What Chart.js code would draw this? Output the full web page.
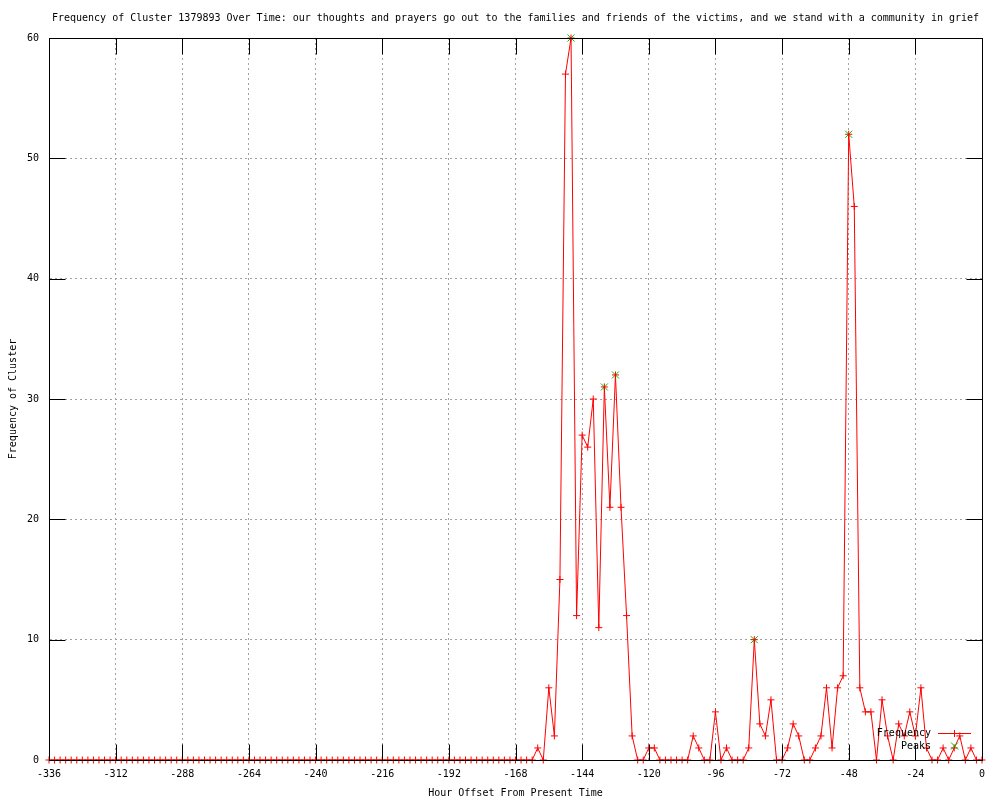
<!DOCTYPE html>
<html>
<head>
<meta charset="utf-8">
<script src="https://cdn.jsdelivr.net/npm/chart.js@4"></script>
<style>
    body { margin: 0; background: #fff; }
    #wrap { width: 1000px; height: 800px; }
</style>
</head>
<body>
<div id="wrap"><canvas id="chart" width="1000" height="800"></canvas></div>
<script>
const titleText = "Frequency of Cluster 1379893 Over Time: our thoughts and prayers go out to the families and friends of the victims, and we stand with a community in grief";

// hour offsets, one sample every 2 hours
const hours = [
    -336, -334, -332, -330, -328, -326, -324, -322, -320, -318, -316, -314,
    -312, -310, -308, -306, -304, -302, -300, -298, -296, -294, -292, -290,
    -288, -286, -284, -282, -280, -278, -276, -274, -272, -270, -268, -266,
    -264, -262, -260, -258, -256, -254, -252, -250, -248, -246, -244, -242,
    -240, -238, -236, -234, -232, -230, -228, -226, -224, -222, -220, -218,
    -216, -214, -212, -210, -208, -206, -204, -202, -200, -198, -196, -194,
    -192, -190, -188, -186, -184, -182, -180, -178, -176, -174, -172, -170,
    -168, -166, -164, -162, -160, -158, -156, -154, -152, -150, -148, -146,
    -144, -142, -140, -138, -136, -134, -132, -130, -128, -126, -124, -122,
    -120, -118, -116, -114, -112, -110, -108, -106, -104, -102, -100, -98,
    -96, -94, -92, -90, -88, -86, -84, -82, -80, -78, -76, -74,
    -72, -70, -68, -66, -64, -62, -60, -58, -56, -54, -52, -50,
    -48, -46, -44, -42, -40, -38, -36, -34, -32, -30, -28, -26,
    -24, -22, -20, -18, -16, -14, -12, -10, -8, -6, -4, -2,
    0
];

const frequency = [
    0, 0, 0, 0, 0, 0, 0, 0, 0, 0, 0, 0,
    0, 0, 0, 0, 0, 0, 0, 0, 0, 0, 0, 0,
    0, 0, 0, 0, 0, 0, 0, 0, 0, 0, 0, 0,
    0, 0, 0, 0, 0, 0, 0, 0, 0, 0, 0, 0,
    0, 0, 0, 0, 0, 0, 0, 0, 0, 0, 0, 0,
    0, 0, 0, 0, 0, 0, 0, 0, 0, 0, 0, 0,
    0, 0, 0, 0, 0, 0, 0, 0, 0, 0, 0, 0,
    0, 0, 0, 0, 1, 0, 6, 2, 15, 57, 60, 12,
    27, 26, 30, 11, 31, 21, 32, 21, 12, 2, 0, 0,
    1, 1, 0, 0, 0, 0, 0, 0, 2, 1, 0, 0,
    4, 0, 1, 0, 0, 0, 1, 10, 3, 2, 5, 0,
    0, 1, 3, 2, 0, 0, 1, 2, 6, 1, 6, 7,
    52, 46, 6, 4, 4, 0, 5, 2, 0, 3, 2, 4,
    2, 6, 1, 0, 0, 1, 0, 1, 2, 0, 1, 0,
    0
];

const peakHours = [-148, -136, -132, -82, -48];
const peakValues = [60, 31, 32, 10, 52];

const xTicks = [-336, -312, -288, -264, -240, -216, -192, -168, -144, -120, -96, -72, -48, -24, 0];
const yTicks = [0, 10, 20, 30, 40, 50, 60];

const FONT = "'DejaVu Sans Mono', 'Liberation Mono', monospace";
const RED = "#ff0000";
const GREEN = "#00c000";
const TIC = 16;

Chart.defaults.font.family = FONT;
Chart.defaults.font.size = 10;
Chart.defaults.color = "#000";

// gnuplot style border box with inward ticks on all four sides
const borderPlugin = {
    id: "gnuBorder",
    afterDatasetsDraw: function (chart) {
        var ctx = chart.ctx;
        var a = chart.chartArea;
        var xs = chart.scales.x;
        var ys = chart.scales.y;
        var L = Math.round(a.left) + 0.5, R = Math.round(a.right) + 0.5;
        var T = Math.round(a.top) + 0.5, B = Math.round(a.bottom) + 0.5;
        ctx.save();
        ctx.strokeStyle = "#000";
        ctx.lineWidth = 1;
        ctx.setLineDash([]);
        ctx.beginPath();
        xTicks.forEach(function (v) {
            var px = Math.round(xs.getPixelForValue(v)) + 0.5;
            ctx.moveTo(px, B); ctx.lineTo(px, B - TIC);
            ctx.moveTo(px, T); ctx.lineTo(px, T + TIC);
        });
        yTicks.forEach(function (v) {
            var py = Math.round(ys.getPixelForValue(v)) + 0.5;
            ctx.moveTo(L, py); ctx.lineTo(L + TIC, py);
            ctx.moveTo(R, py); ctx.lineTo(R - TIC, py);
        });
        ctx.stroke();
        ctx.strokeRect(L, T, R - L, B - T);
        ctx.restore();
    },
    afterDraw: function (chart) {
        // key in the lower right corner of the plot
        var ctx = chart.ctx;
        var a = chart.chartArea;
        var ds = chart.data.datasets;
        var textX = a.right - 51;
        var lineX0 = a.right - 44, lineX1 = a.right - 11;
        var midX = (lineX0 + lineX1) / 2;
        var y1 = a.bottom - 27, y2 = a.bottom - 14;
        ctx.save();
        ctx.font = "10px " + FONT;
        ctx.fillStyle = "#000";
        ctx.textAlign = "right";
        ctx.textBaseline = "middle";
        ctx.fillText(ds[0].label, textX, y1);
        ctx.fillText(ds[1].label, textX, y2);
        ctx.lineWidth = 1;
        ctx.strokeStyle = RED;
        ctx.beginPath();
        ctx.moveTo(lineX0, y1 + 0.5); ctx.lineTo(lineX1, y1 + 0.5);
        ctx.moveTo(midX - 3.5, y1 + 0.5); ctx.lineTo(midX + 3.5, y1 + 0.5);
        ctx.moveTo(midX, y1 - 3); ctx.lineTo(midX, y1 + 4);
        ctx.stroke();
        ctx.strokeStyle = GREEN;
        ctx.beginPath();
        ctx.moveTo(midX - 3.5, y2 - 3.5); ctx.lineTo(midX + 3.5, y2 + 3.5);
        ctx.moveTo(midX - 3.5, y2 + 3.5); ctx.lineTo(midX + 3.5, y2 - 3.5);
        ctx.stroke();
        ctx.restore();
    }
};

var freqPoints = hours.map(function (h, i) { return { x: h, y: frequency[i] }; });
var peakPoints = peakHours.map(function (h, i) { return { x: h, y: peakValues[i] }; });

new Chart(document.getElementById("chart"), {
    type: "line",
    data: {
        datasets: [
            {
                label: "Frequency",
                data: freqPoints,
                borderColor: RED,
                backgroundColor: RED,
                borderWidth: 1,
                tension: 0,
                fill: false,
                pointStyle: "cross",
                pointRadius: 3.5,
                pointBorderWidth: 1,
                pointBorderColor: RED,
                clip: false
            },
            {
                label: "Peaks",
                data: peakPoints,
                showLine: false,
                borderColor: GREEN,
                backgroundColor: GREEN,
                pointStyle: "crossRot",
                pointRadius: 5,
                pointBorderWidth: 1,
                pointBorderColor: GREEN,
                clip: false
            }
        ]
    },
    options: {
        responsive: false,
        animation: false,
        events: [],
        layout: {
            padding: { top: 0, right: 18, left: 0, bottom: 0 }
        },
        plugins: {
            legend: { display: false },
            tooltip: { enabled: false },
            title: {
                display: true,
                text: titleText,
                fullSize: false,
                color: "#000",
                font: { family: FONT, size: 10, weight: "normal" },
                padding: { top: 12, bottom: 14 }
            }
        },
        scales: {
            x: {
                type: "linear",
                min: -336,
                max: 0,
                afterFit: function (scale) { scale.height = 40; },
                afterBuildTicks: function (scale) {
                    scale.ticks = xTicks.map(function (v) { return { value: v }; });
                },
                ticks: {
                    padding: 8,
                    maxRotation: 0,
                    autoSkip: false,
                    color: "#000",
                    callback: function (v) { return String(v); }
                },
                grid: {
                    color: "#a0a0a0",
                    lineWidth: 1,
                    drawTicks: false
                },
                border: { display: true, color: "#000", width: 1, dash: [2, 3] },
                title: {
                    display: true,
                    text: "Hour Offset From Present Time",
                    color: "#000",
                    font: { family: FONT, size: 10 },
                    padding: { top: 0, bottom: 1 }
                }
            },
            y: {
                type: "linear",
                min: 0,
                max: 60,
                afterFit: function (scale) { scale.width = 49; },
                afterBuildTicks: function (scale) {
                    scale.ticks = yTicks.map(function (v) { return { value: v }; });
                },
                ticks: {
                    padding: 10,
                    color: "#000",
                    callback: function (v) { return String(v); }
                },
                grid: {
                    color: "#a0a0a0",
                    lineWidth: 1,
                    drawTicks: false
                },
                border: { display: true, color: "#000", width: 1, dash: [2, 3] },
                title: {
                    display: true,
                    text: "Frequency of Cluster",
                    color: "#000",
                    font: { family: FONT, size: 10 },
                    padding: { top: 7, bottom: 0 }
                }
            }
        }
    },
    plugins: [borderPlugin]
});
</script>
</body>
</html>
